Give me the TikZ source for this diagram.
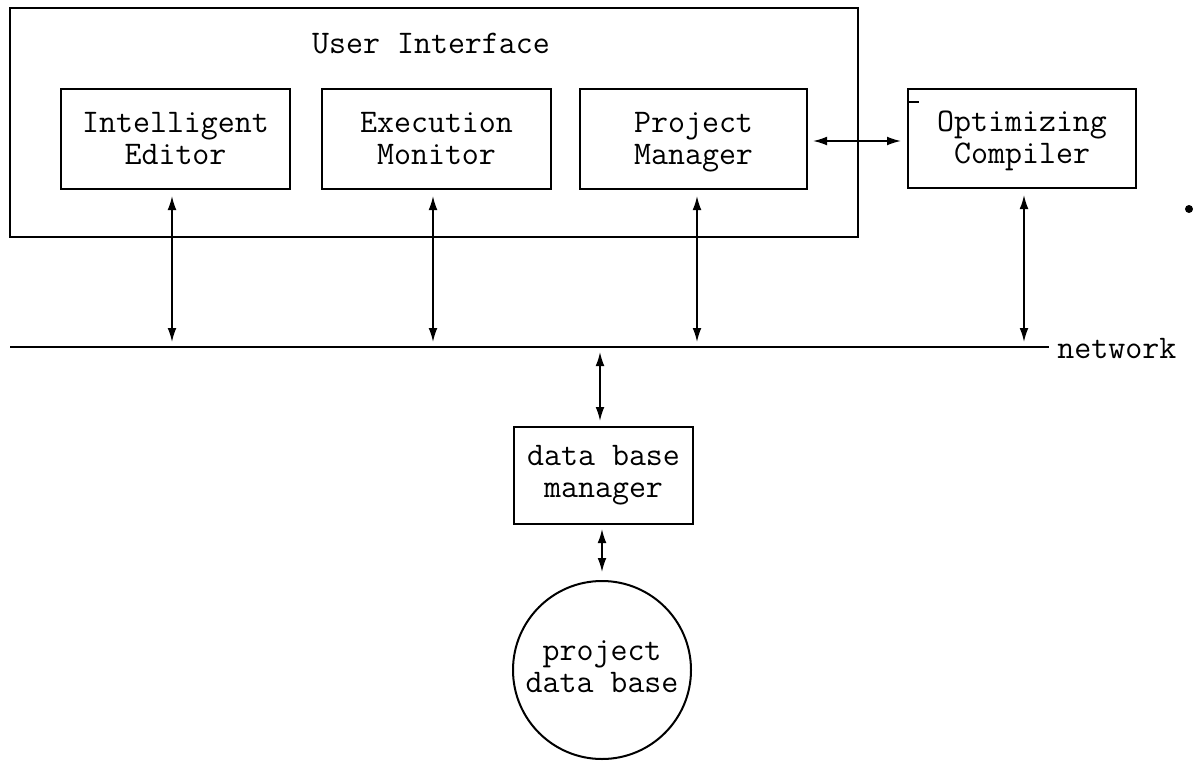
\documentclass[tikz,border=0pt]{standalone}
\usetikzlibrary{arrows.meta}
\begin{document}
\begin{tikzpicture}[x=0.5pt, y=-0.5pt,
  every node/.style={font=\fontsize{16.5}{16}\selectfont\ttfamily, align=center},
  box/.style={draw, line width=1pt, inner sep=0pt},
  boxtext/.style={inner sep=0pt},
  biarrow/.style={line width=0.8pt, {Latex[length=7pt,width=4.4pt]}-{Latex[length=7pt,width=4.4pt]}},
  netline/.style={line width=1.1pt}]
\useasboundingbox (0,0) rectangle (1193,760);

% user interface frame and its tools
\node[box, minimum width=424pt, minimum height=114.5pt] (ui) at (434,122.5) {};
\node (uititle) at (431,44) {User Interface};
\node[box, minimum width=114.5pt, minimum height=50pt] (ed) at (175.5,139) {};
\node[box, minimum width=114.5pt, minimum height=50pt] (ex) at (436.5,139) {};
\node[box, minimum width=113.5pt, minimum height=50pt] (pm) at (693.5,139) {};
\node[box, minimum width=114pt, minimum height=49.5pt] (oc) at (1022,138.5) {};
\node[boxtext] (edtxt) at ([yshift=-1.5pt]ed.center) {Intelligent\strut\\Editor\strut};
\node[boxtext] (extxt) at ([yshift=-1.5pt]ex.center) {Execution\strut\\Monitor\strut};
\node[boxtext] (pmtxt) at ([yshift=-1.5pt]pm.center) {Project\strut\\Manager\strut};
\node[boxtext] (octxt) at ([yshift=-1.5pt]oc.center) {Optimizing\strut\\Compiler\strut};
\draw[line width=0.8pt] (oc.north west) ++(0,14) -- ++(12,0);

% network bus
\coordinate (net) at (0,347);
\coordinate (netW) at (10,347);
\coordinate (netE) at (1049,347);
\draw[netline] (netW) -- (netE);
\node[anchor=west, inner sep=0pt] (netlbl) at (1057,349) {network};

% links to the network
\draw[biarrow, shorten <=3pt, shorten >=2.5pt] ([xshift=-1.75pt]ed.south) -- ([xshift=-1.75pt]ed.south |- net);
\draw[biarrow, shorten <=3pt, shorten >=2.5pt] ([xshift=-1.75pt]ex.south) -- ([xshift=-1.75pt]ex.south |- net);
\draw[biarrow, shorten <=3pt, shorten >=2.5pt] ([xshift=1.75pt]pm.south) -- ([xshift=1.75pt]pm.south |- net);
\draw[biarrow, shorten <=3pt, shorten >=2.5pt] ([xshift=1pt]oc.south) -- ([xshift=1pt]oc.south |- net);
\draw[biarrow, shorten <=2.5pt, shorten >=3pt] ([yshift=-1pt]pm.east) -- ([yshift=-1pt]pm.east -| oc.west);

% data base side
\node[box, minimum width=89.5pt, minimum height=48.5pt] (dbm) at (603.5,475.5) {data base\strut\\manager\strut};
\node[draw, circle, line width=1pt, minimum size=89pt, inner sep=0pt] (pdb) at (602,670) {project\strut\\data base\strut};
\draw[biarrow, shorten <=2.5pt, shorten >=2.5pt] ([xshift=-1.75pt]dbm.north |- net) -- ([xshift=-1.75pt]dbm.north);
\draw[biarrow, shorten <=2pt, shorten >=4pt] (dbm.south -| pdb.north) -- (pdb.north);

% stray mark at the right margin
\fill (1189,209) circle (2pt);
\end{tikzpicture}
\end{document}
